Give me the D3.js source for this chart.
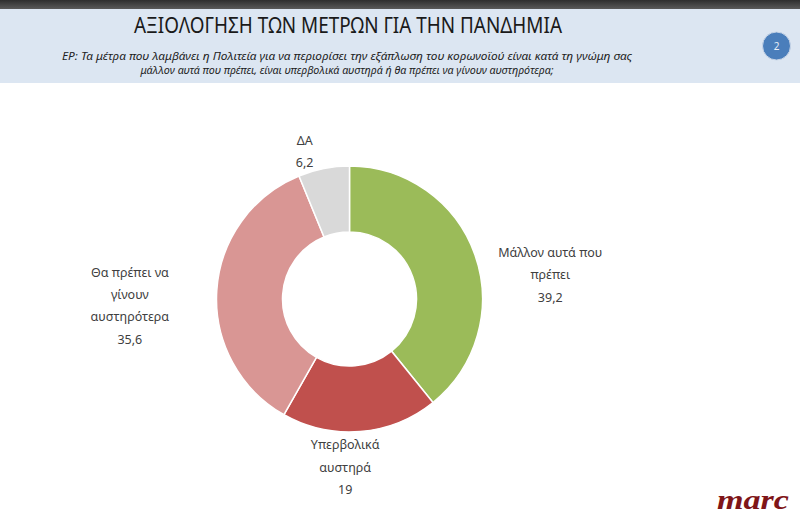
<!DOCTYPE html>
<html>
<head>
<meta charset="utf-8">
<script src="https://cdn.jsdelivr.net/npm/d3@7"></script>
<style>
  body { margin: 0; background: #fff; }
  svg { display: block; }
</style>
</head>
<body>
<div class="chart"></div>
<script>
const categories = ["Μάλλον αυτά που πρέπει", "Υπερβολικά αυστηρά", "Θα πρέπει να γίνουν αυστηρότερα", "ΔΑ"];
const values = [39.2, 19, 35.6, 6.2];
const valueLabels = ["39,2", "19", "35,6", "6,2"];
const labelLines = [
    ["Μάλλον αυτά που", "πρέπει"],
    ["Υπερβολικά", "αυστηρά"],
    ["Θα πρέπει να", "γίνουν", "αυστηρότερα"],
    ["ΔΑ"]
];
const colors = ["#9bbb59", "#c0504d", "#d99694", "#d9d9d9"];

const w = 800;
const h = 520;
const cx = 349.5, cy = 299;
const outerR = 133, innerR = 67;

const svg = d3.select(".chart")
    .append("svg")
    .attr("width", w)
    .attr("height", h);

// header panel
const grad = svg.append("defs").append("linearGradient")
    .attr("id", "topbar").attr("x1", 0).attr("x2", 0).attr("y1", 0).attr("y2", 1);
grad.append("stop").attr("offset", "0%").attr("stop-color", "#2e2e2e");
grad.append("stop").attr("offset", "100%").attr("stop-color", "#5a5a5a");

svg.append("rect")
    .attr("x", 0).attr("y", 0)
    .attr("width", w).attr("height", 9)
    .attr("fill", "url(#topbar)");
svg.append("rect")
    .attr("x", 0).attr("y", 9)
    .attr("width", w).attr("height", 74)
    .attr("fill", "#dce6f2");

svg.append("text")
    .attr("x", 348).attr("y", 33)
    .attr("text-anchor", "middle")
    .attr("font-family", "Noto Sans")
    .attr("font-size", 21)
    .attr("fill", "#1a1a1a")
    .attr("textLength", 428)
    .attr("lengthAdjust", "spacingAndGlyphs")
    .text("ΑΞΙΟΛΟΓΗΣΗ ΤΩΝ ΜΕΤΡΩΝ ΓΙΑ ΤΗΝ ΠΑΝΔΗΜΙΑ");

const subtitle = [
    "ΕΡ: Τα μέτρα που λαμβάνει η Πολιτεία για να περιορίσει την εξάπλωση του κορωνοϊού είναι κατά τη γνώμη σας",
    "μάλλον αυτά που πρέπει, είναι υπερβολικά αυστηρά ή θα πρέπει να γίνουν αυστηρότερα;"
];
const subWidths = [570, 413];
svg.selectAll("text.sub")
    .data(subtitle)
    .enter()
    .append("text")
    .attr("class", "sub")
    .attr("x", 347)
    .attr("y", (d, i) => 60 + i * 13.5)
    .attr("text-anchor", "middle")
    .attr("font-family", "Noto Sans")
    .attr("font-style", "italic")
    .attr("font-size", 10.5)
    .attr("fill", "#222")
    .attr("textLength", (d, i) => subWidths[i])
    .attr("lengthAdjust", "spacingAndGlyphs")
    .text(d => d);

// page badge
svg.append("circle")
    .attr("cx", 776.5).attr("cy", 46).attr("r", 14)
    .attr("fill", "#4a7ebb")
    .attr("stroke", "#c9d6e8").attr("stroke-width", 1);
svg.append("text")
    .attr("x", 776.5).attr("y", 49.5)
    .attr("text-anchor", "middle")
    .attr("font-family", "Noto Sans")
    .attr("font-size", 10)
    .attr("fill", "#e8eef7")
    .text("2");

// donut
const pie = d3.pie().sort(null).value(d => d);
const arcs = pie(values);
const arc = d3.arc().innerRadius(innerR).outerRadius(outerR);

const g = svg.append("g").attr("transform", `translate(${cx},${cy})`);
g.selectAll("path")
    .data(arcs)
    .enter()
    .append("path")
    .attr("d", arc)
    .attr("fill", (d, i) => colors[i])
    .attr("stroke", "#fff")
    .attr("stroke-width", 1.5);

// labels placed outside the ring
const labelR = 180;
const nudge = [[31, 36], [-19, -11], [-40, 18], [-10, 29]];
const lineH = 22.3;
const labels = g.selectAll("g.lbl")
    .data(arcs)
    .enter()
    .append("g")
    .attr("class", "lbl")
    .attr("transform", (d, i) => {
        const a = (d.startAngle + d.endAngle) / 2;
        const x = Math.sin(a) * labelR + nudge[i][0];
        const y = -Math.cos(a) * labelR + nudge[i][1];
        return `translate(${x},${y})`;
    });

labels.each(function(d, i) {
    const lines = labelLines[i].concat([valueLabels[i]]);
    const top = -(lines.length - 1) * lineH / 2;
    d3.select(this).selectAll("text")
        .data(lines)
        .enter()
        .append("text")
        .attr("x", 0)
        .attr("y", (t, j) => top + j * lineH)
        .attr("dy", "0.35em")
        .attr("text-anchor", "middle")
        .attr("font-family", "Noto Sans")
        .attr("font-size", 12.5)
        .attr("fill", "#404040")
        .text(t => t);
});

// logo
svg.append("text")
    .attr("x", 753).attr("y", 509)
    .attr("text-anchor", "middle")
    .attr("font-family", "Liberation Serif")
    .attr("font-style", "italic")
    .attr("font-weight", "bold")
    .attr("font-size", 27)
    .attr("fill", "#7f1518")
    .attr("textLength", 72)
    .attr("lengthAdjust", "spacingAndGlyphs")
    .text("marc");
</script>
</body>
</html>
